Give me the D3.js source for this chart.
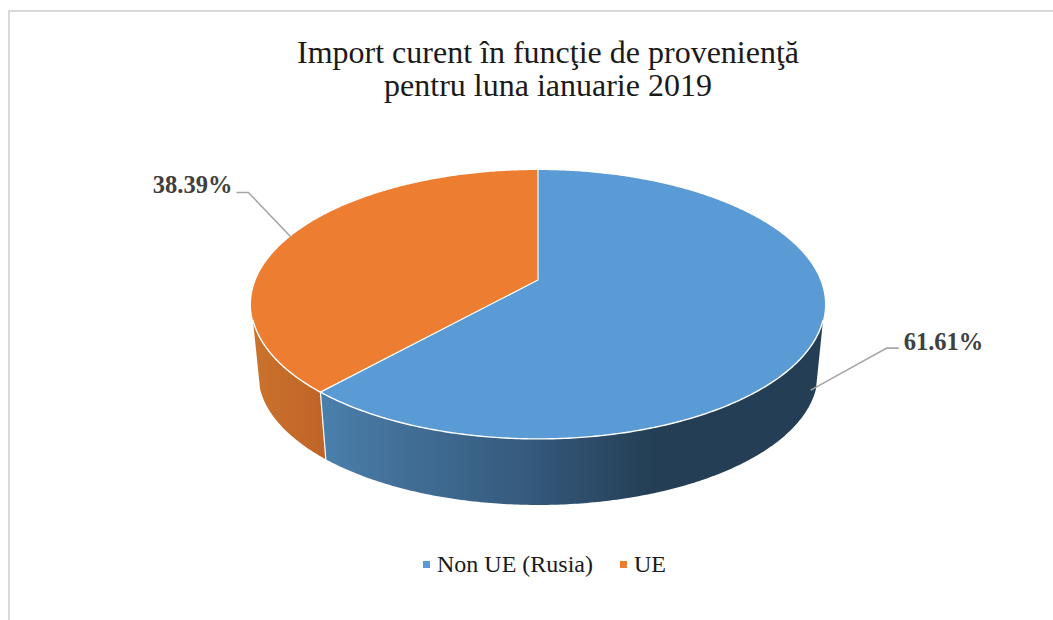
<!DOCTYPE html>
<html><head><meta charset="utf-8"><script src="https://cdn.jsdelivr.net/npm/d3@7"></script>
<style>html,body{margin:0;padding:0;background:#fff}svg{display:block}text{font-family:"Liberation Serif",serif}</style></head>
<body><svg id="c" width="1053" height="620"></svg>
<script>
const categories = ["Non UE (Rusia)", "UE"];
const values = [61.61, 38.39];
const labels = ["61.61%", "38.39%"];
const colors = ["#5b9bd5", "#ed7d31"];
const titleLines = ["Import curent în funcţie de provenienţă", "pentru luna ianuarie 2019"];

const svg = d3.select("#c");
const W = 1053, H = 620;
svg.append("rect").attr("width", W).attr("height", H).attr("fill", "#fff");
// chart frame: runs off the right and bottom of the picture
svg.append("path").attr("d", `M9,${H}V11H${W}`).attr("fill", "none").attr("stroke", "#d9d9d9").attr("stroke-width", 2);

// perspective projection of a disc
const persp = -0.182, cx = 538;
const top_ = {y0: 280, A: 130, B: 282.2};
const bot = {y0: 350, A: 130 * 0.975, B: 282.2 * 0.975};
const proj = (t, d) => {
  const x = Math.sin(t), y = -Math.cos(t), k = 1 + persp * y;
  return [cx + d.B * x / k, d.y0 + d.A * y / k];
};
const arcPts = (a, b, d) => {
  const n = Math.max(2, Math.ceil(Math.abs(b - a) / 0.01));
  return d3.range(n + 1).map(i => proj(a + (b - a) * i / n, d));
};
const line = d3.line();
const pie = d3.pie().sort(null).value(d => d)(values);

const defs = svg.append("defs");
const g1 = defs.append("linearGradient").attr("id", "sideBlue");
[[0, "#4a80ae"], [0.13, "#44729b"], [0.43, "#34587a"], [0.66, "#243f55"], [1, "#243f55"]]
  .forEach(s => g1.append("stop").attr("offset", s[0]).attr("stop-color", s[1]));
const g2 = defs.append("linearGradient").attr("id", "sideOrange");
[[0, "#cb722d"], [1, "#bf6427"]]
  .forEach(s => g2.append("stop").attr("offset", s[0]).attr("stop-color", s[1]));
const sideFill = ["url(#sideBlue)", "url(#sideOrange)"];

// visible part of the wall: front half, bounded by the silhouette angle
const silhouette = 107 * Math.PI / 180, fullTurn = 2 * Math.PI;
pie.forEach((s, i) => {
  const a = Math.max(s.startAngle, silhouette), b = Math.min(s.endAngle, fullTurn - silhouette);
  const pts = arcPts(a, b, top_).concat(arcPts(b, a, bot));
  svg.append("path").attr("d", line(pts) + "Z").attr("fill", sideFill[i]);
});
// white seam on the wall between the slices
svg.append("path").attr("d", line([proj(pie[1].startAngle, top_), proj(pie[1].startAngle, bot)]))
  .attr("stroke", "#fff").attr("stroke-width", 1.2).attr("fill", "none");

// top faces
pie.forEach((s, i) => {
  const pts = [[cx, top_.y0]].concat(arcPts(s.startAngle, s.endAngle, top_));
  svg.append("path").attr("d", line(pts) + "Z").attr("fill", colors[i]);
});
// white seams on top
svg.append("path").attr("d", line([proj(pie[0].startAngle, top_), [cx, top_.y0], proj(pie[1].startAngle, top_)]))
  .attr("stroke", "#fff").attr("stroke-width", 1.2).attr("fill", "none");
svg.append("path").attr("d", line(arcPts(silhouette, fullTurn - silhouette, top_)))
  .attr("stroke", "#fff").attr("stroke-width", 1.4).attr("fill", "none");

// leader lines and data labels
const leaders = [
  {depth: bot, fy: 0.88, elbow: [76, -42], run: 12, tx: 5, ty: 2, anchor: "start"},
  {depth: top_, fy: 1, elbow: [-42, -44], run: -12, tx: -4, ty: 1, anchor: "end"}
];
pie.forEach((s, i) => {
  const mid = (s.startAngle + s.endAngle) / 2, L = leaders[i];
  const pT = proj(mid, top_), pB = proj(mid, bot);
  const p = L.depth === bot ? [pT[0] + (pB[0] - pT[0]) * L.fy - 3, pT[1] + (pB[1] - pT[1]) * L.fy] : pT;
  const e = [p[0] + L.elbow[0], p[1] + L.elbow[1]], end = [e[0] + L.run, e[1]];
  svg.append("path").attr("d", line([p, e, end])).attr("fill", "none").attr("stroke", "#a6a6a6").attr("stroke-width", 1.6);
  svg.append("text").attr("x", end[0] + L.tx).attr("y", end[1] + L.ty).attr("text-anchor", L.anchor)
    .attr("font-size", 24.5).attr("font-weight", "bold").attr("fill", "#404040").text(labels[i]);
});

// title
titleLines.forEach((t, i) => svg.append("text").attr("x", 548).attr("y", 63 + i * 33)
  .attr("text-anchor", "middle").attr("font-size", 32).attr("fill", "#1a1a1a").text(t));

// legend
const lx = [423, 620];
categories.forEach((c, i) => {
  svg.append("rect").attr("x", lx[i]).attr("y", 561).attr("width", 7).attr("height", 7).attr("fill", colors[i]);
  svg.append("text").attr("x", lx[i] + 14).attr("y", 572).attr("font-size", 24).attr("fill", "#1a1a1a").text(c);
});
</script></body></html>
